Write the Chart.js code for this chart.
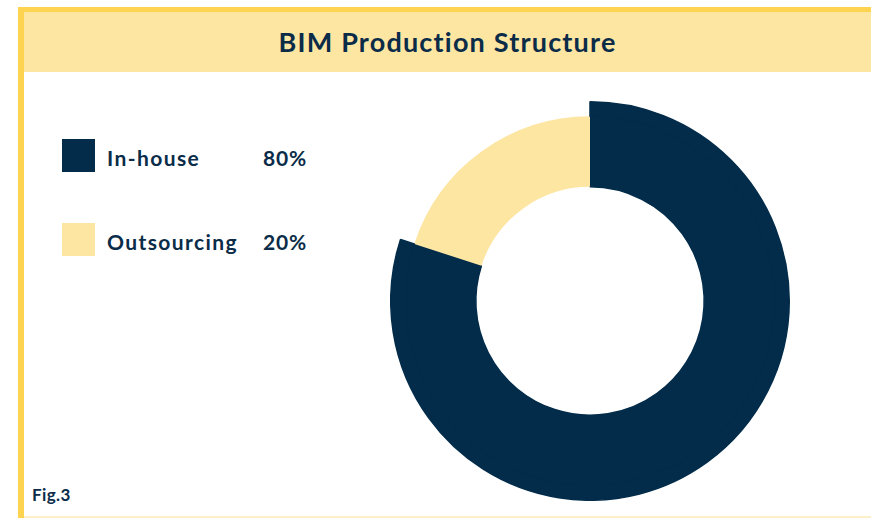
<!DOCTYPE html>
<html><head><meta charset="utf-8">
<script src="https://cdn.jsdelivr.net/npm/chart.js@4.4.1/dist/chart.umd.min.js"></script>
<style>
html,body{margin:0;padding:0;background:#fff;width:871px;height:518px;overflow:hidden;font-family:Lato,"Open Sans",sans-serif;color:#0b2c48}
#topbar{position:absolute;left:18px;top:7px;width:853px;height:5px;background:#fdd34f}
#leftbar{position:absolute;left:18px;top:7px;width:6px;height:511px;background:#fdd34f}
#header{position:absolute;left:24px;top:12px;width:847px;height:60px;background:#fde5a2;text-align:center;line-height:60px;font-weight:700;font-size:27px;letter-spacing:1.2px;color:#0b2c48}
#bottombar{position:absolute;left:24px;top:516px;width:847px;height:2px;background:#fdf0c8}
#fig{position:absolute;left:32px;top:484px;font-weight:700;font-size:17px;letter-spacing:0.4px;color:#0b2c48}
.lg{position:absolute;left:62px;height:33px;}
.sw{position:absolute;left:0;top:0;width:33px;height:33px}
.lb{position:absolute;left:45px;top:2px;line-height:33px;font-weight:700;font-size:21px;white-space:nowrap;letter-spacing:1.4px}
.pc{position:absolute;left:201px;top:2px;line-height:33px;font-weight:700;font-size:21px;letter-spacing:0.8px}
#wrap{position:absolute;left:390px;top:101px;width:400px;height:400px}
</style></head>
<body>
<div id="topbar"></div><div id="leftbar"></div>
<div id="header">BIM Production Structure</div>
<div id="bottombar"></div>
<div id="fig">Fig.3</div>
<div id="legend"></div>
<div id="wrap"><canvas id="c"></canvas></div>
<script>
const categories = ["In-house", "Outsourcing"];
const values = [80, 20];
const colors = ["#022c4a", "#fde5a2"];

// legend from the data
const lg = document.getElementById('legend');
categories.forEach((c, i) => {
  const d = document.createElement('div');
  d.className = 'lg';
  d.style.top = (139 + i * 84) + 'px';
  d.innerHTML = '<div class="sw" style="background:' + colors[i] + '"></div><div class="lb">' + c + '</div><div class="pc">' + values[i] + '%</div>';
  lg.appendChild(d);
});

// outer ring: only the In-house slice extends further out
const outerColors = [colors[0], 'rgba(0,0,0,0)'];
new Chart(document.getElementById('c'), {
  type: 'doughnut',
  data: {
    labels: categories,
    datasets: [
      { data: values, backgroundColor: outerColors, borderColor: outerColors, borderWidth: [1.5, 0], weight: 14.5 },
      { data: values, backgroundColor: colors, borderColor: [colors[0], 'rgba(0,0,0,0)'], borderWidth: [1.5, 0], weight: 70.5 }
    ]
  },
  options: {
    responsive: true,
    maintainAspectRatio: false,
    animation: false,
    cutout: '57.3%',
    rotation: 0,
    layout: { padding: 0 },
    plugins: { legend: { display: false }, tooltip: { enabled: false } }
  }
});
</script>
</body></html>
